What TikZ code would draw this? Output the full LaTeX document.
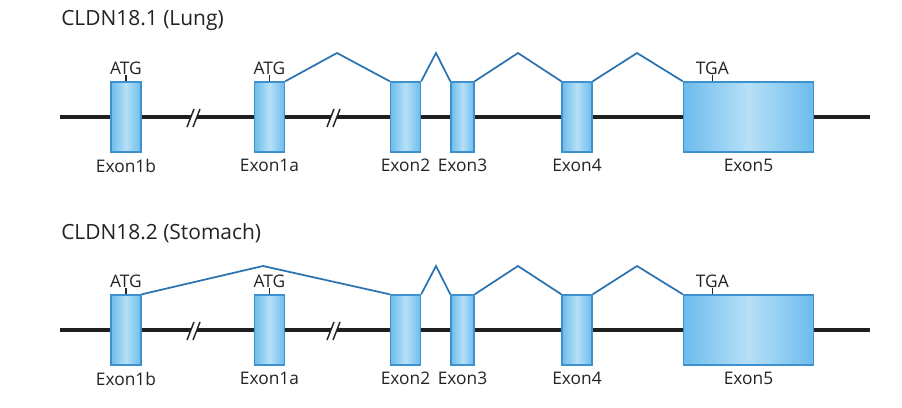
\documentclass[tikz,border=0pt]{standalone}
\usepackage{fontspec}
\setmainfont{Open Sans}
\usetikzlibrary{positioning,calc}

\definecolor{exonblue}{RGB}{108,188,236}
\definecolor{exonlight}{RGB}{182,224,247}
\definecolor{exonedge}{RGB}{60,145,206}
\definecolor{splice}{RGB}{42,115,176}
\definecolor{inktext}{RGB}{35,35,35}

\tikzset{
  exon/.style={draw=exonedge, line width=1pt, left color=exonblue, right color=exonblue,
    middle color=exonlight, minimum height=52.5pt, inner sep=0pt},
  backbone/.style={line width=2.6pt, black!88},
  splicing/.style={draw=splice, line width=1.3pt},
  codon/.style={line width=1.1pt, black!85},
  lbl/.style={font=\fontsize{13}{15}\selectfont, text=inktext, inner sep=1pt},
  ttl/.style={font=\fontsize{15.7}{18}\selectfont, text=inktext, inner sep=0pt, anchor=west}
}

\begin{document}
\begin{tikzpicture}[x=0.75pt, y=-0.75pt]
  \useasboundingbox (0,0) rectangle (902,407);

  % two transcripts, same exon layout
  \foreach \row/\dy in {a/0, b/213} {
    \begin{scope}[shift={(0,\dy)}, name prefix=\row-]
      \coordinate (s) at (60,117);
      \coordinate (t) at (870,117);
      \draw[backbone] (s) -- (t);
      % intron breaks
      \foreach \cx in {194,334} {
        \fill[white] (\cx-7,127) -- (\cx,109) -- (\cx+6,109) -- (\cx-1,127) -- cycle;
        \draw[codon] (\cx-7,127) -- (\cx,109);
        \draw[codon] (\cx-1,127) -- (\cx+6,109);
      }
      \foreach \n/\x/\w/\t in {e1b/126/22.5pt/Exon1b, e1a/269.5/22.5pt/Exon1a,
          e2/405.5/22.5pt/Exon2, e3/462.5/17.25pt/Exon3, e4/577/22.5pt/Exon4,
          e5/748.5/97.5pt/Exon5} {
        \node[exon, minimum width=\w] (\n) at (\x,117) {};
        \node[lbl, below=3.5pt of \n] (\n-lbl) {\t};
      }
      % start / stop codons
      \draw[codon] (e1b.north) -- ++(0,-6) coordinate (atg1);
      \draw[codon] (e1a.north) -- ++(0,-6) coordinate (atg2);
      \coordinate (tga0) at ($(e5.north west)+(29.5,0)$);
      \draw[codon] (tga0) -- ++(0,-6) coordinate (tga);
      \node[lbl, above=-1pt of atg1] (atg1-lbl) {ATG};
      \node[lbl, above=-1pt of atg2] (atg2-lbl) {ATG};
      \node[lbl, above=-1pt of tga] (tga-lbl) {TGA};
      % splice peaks
      \coordinate (p2) at (436,53);
      \coordinate (p3) at (518,53);
      \coordinate (p4) at (637,53);
      \draw[splicing] (e2.north east) -- (p2) -- (e3.north west);
      \draw[splicing] (e3.north east) -- (p3) -- (e4.north west);
      \draw[splicing] (e4.north east) -- (p4) -- (e5.north west);
    \end{scope}
  }

  \node[ttl] (title1) at (61,20) {CLDN18.1 (Lung)};
  \node[ttl] (title2) at (61,233) {CLDN18.2 (Stomach)};

  \coordinate (p1) at (337,53);
  \draw[splicing] (a-e1a.north east) -- (p1) -- (a-e2.north west);
  \coordinate (q1) at (263,266);
  \draw[splicing] (b-e1b.north east) -- (q1) -- (b-e2.north west);
\end{tikzpicture}
\end{document}
